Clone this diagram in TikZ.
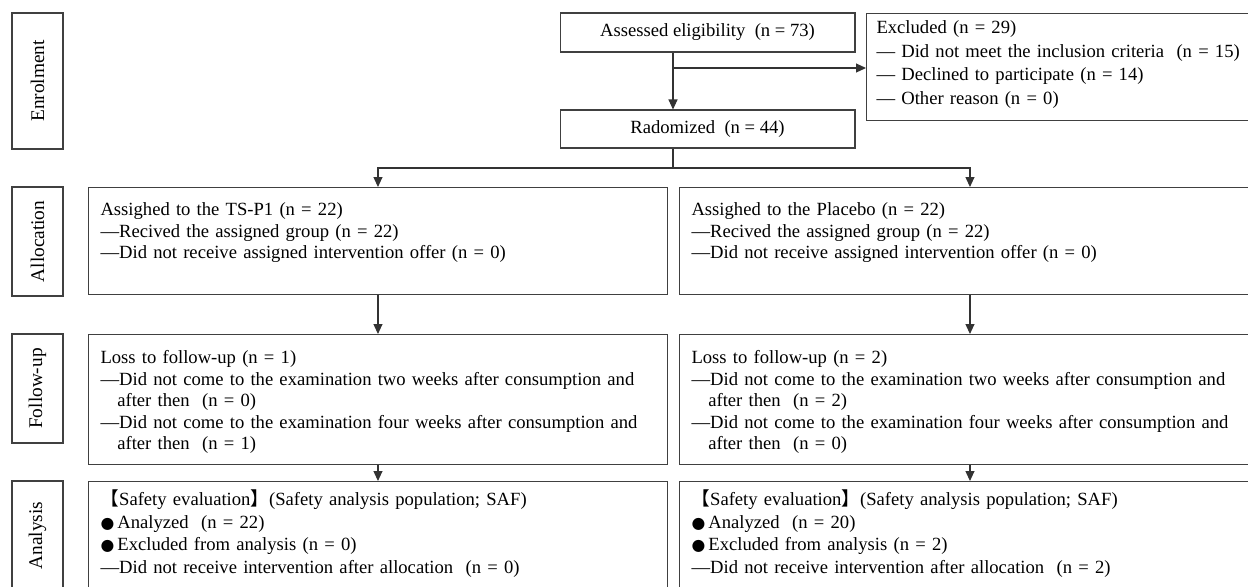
\documentclass[tikz,border=0pt]{standalone}
\usepackage{fontspec}
\setmainfont{Liberation Serif}
\newfontfamily\cjk{Noto Sans CJK JP}
\newfontfamily\symfont{DejaVu Sans}
\usetikzlibrary{arrows.meta}

\newcommand{\blt}{{\symfont\fontsize{9pt}{9pt}\selectfont ●}}

\tikzset{
	stage/.style={draw=black!75, line width=0.6pt, rotate=90, minimum height=1.02cm, inner sep=0pt, font=\fontsize{11pt}{13pt}\selectfont},
	box/.style={draw=black!75, line width=0.6pt, anchor=north west, align=left, inner xsep=0.24cm, inner ysep=0pt, font=\fontsize{10.6pt}{12.3pt}\selectfont},
	midbox/.style={draw=black!75, line width=0.6pt, minimum width=5.9cm, inner sep=0pt},
	link/.style={draw=black!80, line width=0.6pt},
	arr/.style={link, -{Triangle[length=0.2cm, width=0.18cm]}}
}

\begin{document}
\begin{tikzpicture}[x=0.02cm, y=-0.02cm, font=\fontsize{10.6pt}{12.3pt}\selectfont]
	\useasboundingbox (0,0) rectangle (1248,586);
	\clip (0,0) rectangle (1248,586);

	% stages
	\node[stage, minimum width=2.72cm] (sEnrol) at (37.5,81) {Enrolment};
	\node[stage, minimum width=2.18cm] (sAlloc) at (37.5,241.5) {Allocation};
	\node[stage, minimum width=2.18cm] (sFollow) at (37.5,388.5) {Follow-up};
	\node[stage, minimum width=2.18cm] (sAnaly) at (37.5,535.5) {Analysis};

	% enrolment
	\node[midbox, minimum height=0.78cm] (assess) at (707.5,32.5) {Assessed eligibility\ \ (n = 73)};
	\node[midbox, minimum height=0.76cm] (rando) at (707.5,129) {Radomized\ \ (n = 44)};
	\node[box, inner xsep=0.2cm, text width=7.48cm, text height=0.4cm, text depth=1.74cm,
		font=\fontsize{10.6pt}{13.4pt}\selectfont] (excl) at (866,13) {Excluded (n = 29)\\
		--- Did not meet the inclusion criteria\ \ (n = 15)\\
		--- Declined to participate (n = 14)\\
		--- Other reason (n = 0)};

	% allocation
	\node[box, text width=11.1cm, text height=0.56cm, text depth=1.58cm] (tsAlloc) at (88,187) {Assighed to the TS-P1 (n = 22)\\
		---Recived the assigned group (n = 22)\\
		---Did not receive assigned intervention offer (n = 0)};
	\node[box, text width=11.14cm, text height=0.56cm, text depth=1.58cm] (plAlloc) at (679,187) {Assighed to the Placebo (n = 22)\\
		---Recived the assigned group (n = 22)\\
		---Did not receive assigned intervention offer (n = 0)};

	% follow-up
	\node[box, text width=11.1cm, text height=0.58cm, text depth=2.02cm] (tsFollow) at (88,334) {Loss to follow-up (n = 1)\\
		---Did not come to the examination two weeks after consumption and\\
		\hspace*{0.9em}after then\ \ (n = 0)\\
		---Did not come to the examination four weeks after consumption and\\
		\hspace*{0.9em}after then\ \ (n = 1)};
	\node[box, text width=11.14cm, text height=0.58cm, text depth=2.02cm] (plFollow) at (679,334) {Loss to follow-up (n = 2)\\
		---Did not come to the examination two weeks after consumption and\\
		\hspace*{0.9em}after then\ \ (n = 2)\\
		---Did not come to the examination four weeks after consumption and\\
		\hspace*{0.9em}after then\ \ (n = 0)};

	% analysis
	\node[box, text width=11.1cm, text height=0.48cm, text depth=1.92cm,
		font=\fontsize{10.6pt}{12.8pt}\selectfont] (tsAnaly) at (88,481) {{\cjk 【}Safety evaluation{\cjk 】}(Safety analysis population; SAF)\\
		\blt\,Analyzed\ \ (n = 22)\\
		\blt\,Excluded from analysis (n = 0)\\
		---Did not receive intervention after allocation\ \ (n = 0)};
	\node[box, text width=11.14cm, text height=0.48cm, text depth=1.92cm,
		font=\fontsize{10.6pt}{12.8pt}\selectfont] (plAnaly) at (679,481) {{\cjk 【}Safety evaluation{\cjk 】}(Safety analysis population; SAF)\\
		\blt\,Analyzed\ \ (n = 20)\\
		\blt\,Excluded from analysis (n = 2)\\
		---Did not receive intervention after allocation\ \ (n = 2)};

	% connectors
	\coordinate (split) at (673,68);
	\coordinate (fork) at (673,168);
	\draw[arr] (assess.south -| split) -- (rando.north -| split);
	\draw[arr] (split) -- (split -| excl.west);
	\draw[link] (rando.south -| fork) -- (fork);
	\draw[arr] (fork) -| (tsAlloc.north);
	\draw[arr] (fork) -| (plAlloc.north);
	\draw[arr] (tsAlloc.south) -- (tsFollow.north);
	\draw[arr] (plAlloc.south) -- (plFollow.north);
	\draw[arr] (tsFollow.south) -- (tsAnaly.north);
	\draw[arr] (plFollow.south) -- (plAnaly.north);
\end{tikzpicture}
\end{document}
